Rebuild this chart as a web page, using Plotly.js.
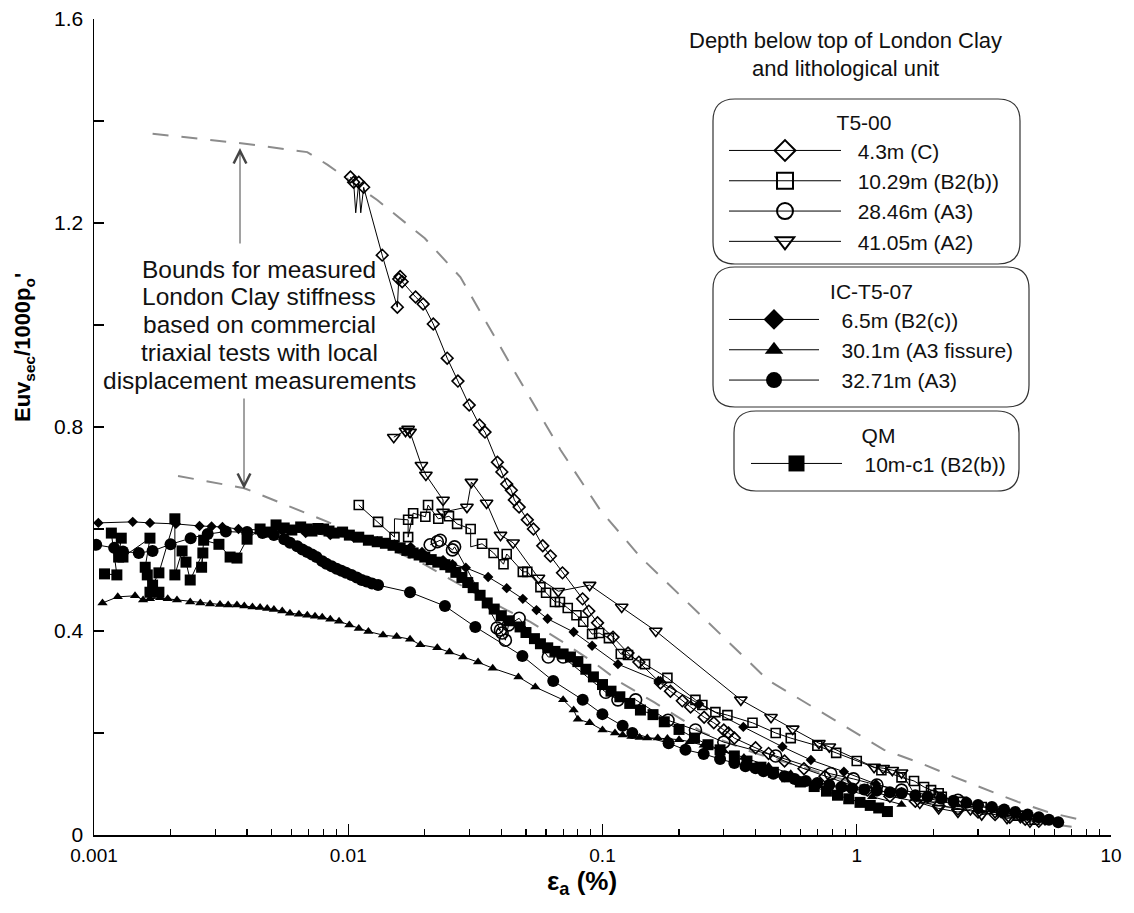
<!DOCTYPE html>
<html><head><meta charset="utf-8">
<script src="https://cdn.plot.ly/plotly-3.0.1.min.js"></script>
<style>html,body{margin:0;padding:0;background:#fff}#chart{width:1134px;height:913px}</style>
</head><body><div id="chart"></div>
<script>
// ---------- data (axial strain %, Euv_sec/1000p'o) ----------
const boundUpperX = [0.0017,0.004,0.0069,0.0083,0.013,0.02,0.0276,0.0447,0.0684,0.098,0.141,0.447,1.28,1.78,2.41,3.27,4.3,5.64,7.7];
const boundUpperY = [1.375,1.355,1.339,1.314,1.245,1.17,1.094,0.912,0.755,0.637,0.545,0.304,0.167,0.141,0.114,0.088,0.065,0.045,0.029];
const boundLowerX = [0.00214,0.0039,0.0083,0.012,0.02,0.03,0.042,0.052,0.07,0.092,0.117,0.16,0.25,0.4,0.64,1.14,2.0,4.0,7.0];
const boundLowerY = [0.704,0.68,0.614,0.58,0.53,0.48,0.441,0.418,0.378,0.339,0.3,0.26,0.2,0.16,0.13,0.092,0.06,0.033,0.016];

// T5-00 4.3m (C)
const t500_43_x = [0.0102,0.0105,0.0107,0.011,0.0112,0.0115,0.0136,0.0156,0.0158,0.016,0.0163,0.0184,0.0197,0.0216,0.0245,0.027,0.0299,0.0328,0.0345,0.0386,0.0402,0.042,0.0438,0.045,0.047,0.0506,0.0535,0.0582,0.0624,0.0696,0.0835,0.0883,0.0956,0.11,0.126,0.139,0.169,0.185,0.206,0.222,0.251,0.274,0.3,0.313,0.33,0.4,0.45,0.52,0.62,0.75,0.9,1.1,1.35,1.7,2.1,2.5,3.0,3.5,4.0,4.6,5.2];
const t500_43_y = [1.29,1.28,1.22,1.28,1.22,1.27,1.137,1.035,1.09,1.095,1.085,1.055,1.041,1.002,0.935,0.89,0.843,0.804,0.79,0.731,0.712,0.688,0.676,0.657,0.643,0.618,0.6,0.567,0.547,0.514,0.463,0.439,0.416,0.388,0.357,0.339,0.298,0.282,0.263,0.251,0.231,0.22,0.206,0.2,0.19,0.171,0.16,0.145,0.13,0.115,0.102,0.088,0.076,0.066,0.058,0.051,0.045,0.04,0.035,0.031,0.027];
const t500_43_hidden = [2, 4]; // line vertices drawn without a symbol
// T5-00 10.29m (B2(b))
const t500_1029_x = [0.011,0.0131,0.0152,0.0152,0.0172,0.0172,0.018,0.0201,0.0206,0.0226,0.0249,0.0268,0.0303,0.0303,0.0336,0.0373,0.0408,0.042,0.0486,0.0506,0.057,0.06,0.065,0.068,0.073,0.079,0.084,0.091,0.097,0.106,0.118,0.126,0.147,0.18,0.232,0.247,0.278,0.31,0.389,0.48,0.55,0.7,0.83,1.0,1.25,1.5,1.68,1.84,1.96,2.1,2.16,2.6,3.1,3.7,4.3,5.0];
const t500_1029_y = [0.647,0.614,0.584,0.62,0.618,0.584,0.631,0.624,0.647,0.62,0.625,0.61,0.6,0.565,0.571,0.553,0.531,0.551,0.516,0.516,0.486,0.475,0.457,0.457,0.445,0.431,0.418,0.394,0.396,0.386,0.355,0.353,0.335,0.308,0.265,0.255,0.241,0.235,0.22,0.2,0.19,0.175,0.161,0.145,0.127,0.113,0.106,0.094,0.088,0.082,0.075,0.065,0.055,0.046,0.038,0.03];
const t500_1029_hidden = [3, 13];
// T5-00 28.46m (A3)
const t500_2846_x = [0.021,0.0224,0.023,0.0257,0.0262,0.0397,0.0385,0.0403,0.0415,0.0427,0.047,0.0612,0.07,0.103,0.115,0.135,0.181,0.232,0.3,0.48,0.79,0.97,1.2,1.5,2.0,2.5];
const t500_2846_y = [0.569,0.575,0.578,0.559,0.565,0.402,0.406,0.396,0.382,0.412,0.425,0.349,0.349,0.28,0.265,0.265,0.225,0.206,0.182,0.155,0.12,0.11,0.098,0.088,0.076,0.068];
// T5-00 41.05m (A2)
const t500_4105_x = [0.0151,0.0168,0.0172,0.0175,0.0194,0.0202,0.0236,0.0236,0.0293,0.0305,0.035,0.0397,0.0445,0.056,0.067,0.089,0.119,0.162,0.35,0.46,0.56,0.71,0.78,1.17,1.27,1.38,1.5,1.77,2.1,2.5,2.8,3.1,3.5,3.9,4.4,4.8];
const t500_4105_y = [0.78,0.792,0.796,0.79,0.725,0.706,0.657,0.633,0.643,0.692,0.651,0.588,0.573,0.504,0.478,0.49,0.447,0.4,0.265,0.231,0.208,0.18,0.173,0.133,0.131,0.127,0.122,0.063,0.052,0.045,0.05,0.04,0.044,0.033,0.035,0.026];
// IC-T5-07 6.5m (B2(c))
const ic_65_x = [0.00104,0.00142,0.00166,0.0021,0.0026,0.0029,0.0032,0.0037,0.0045,0.0055,0.0068,0.0085,0.0105,0.013,0.0152,0.0176,0.0195,0.0236,0.0257,0.029,0.0355,0.042,0.0486,0.055,0.0608,0.077,0.091,0.115,0.166,0.24,0.358,0.51,0.66,0.89,1.19,1.5,1.9,2.4,3.0,3.7,4.5,5.5];
const ic_65_y = [0.612,0.614,0.612,0.61,0.606,0.605,0.604,0.6,0.598,0.596,0.592,0.588,0.583,0.576,0.57,0.565,0.555,0.539,0.531,0.524,0.506,0.484,0.463,0.441,0.424,0.398,0.371,0.335,0.302,0.257,0.212,0.173,0.147,0.124,0.1,0.084,0.072,0.06,0.05,0.042,0.035,0.028];
// IC-T5-07 30.1m (A3 fissure)
const ic_301_x = [0.00108,0.00124,0.00145,0.00156,0.00166,0.00182,0.00195,0.00212,0.00239,0.00262,0.00286,0.00313,0.00337,0.00365,0.0039,0.0042,0.0045,0.0048,0.0051,0.0055,0.0059,0.0064,0.0069,0.0074,0.0079,0.0085,0.0092,0.0101,0.011,0.012,0.0137,0.0155,0.0175,0.0192,0.0224,0.025,0.0283,0.0324,0.037,0.0467,0.0544,0.07,0.077,0.08,0.089,0.1,0.112,0.12,0.13,0.14,0.15,0.165,0.18,0.2,0.22,0.25,0.3,0.36,0.45,0.55,0.7,0.9,1.15,1.5];
const ic_301_y = [0.455,0.467,0.469,0.461,0.463,0.465,0.463,0.461,0.457,0.455,0.453,0.452,0.451,0.451,0.449,0.447,0.446,0.444,0.442,0.439,0.435,0.433,0.431,0.429,0.427,0.423,0.419,0.412,0.405,0.399,0.392,0.389,0.384,0.373,0.367,0.359,0.349,0.339,0.327,0.31,0.29,0.265,0.245,0.227,0.22,0.206,0.2,0.196,0.193,0.191,0.19,0.19,0.189,0.187,0.183,0.176,0.165,0.152,0.135,0.12,0.104,0.09,0.075,0.06];
// IC-T5-07 32.71m (A3)
const ic_3271_x = [0.00102,0.0012,0.0013,0.0015,0.0017,0.002,0.0024,0.0028,0.0033,0.004,0.0046,0.0051,0.0056,0.0059,0.0063,0.0066,0.0069,0.0072,0.0075,0.0079,0.0082,0.0086,0.009,0.0094,0.0098,0.0103,0.0108,0.0113,0.0118,0.0124,0.0131,0.0175,0.024,0.0316,0.0484,0.064,0.0836,0.0999,0.12,0.131,0.182,0.212,0.25,0.29,0.33,0.365,0.4,0.43,0.47,0.52,0.57,0.63,0.7,0.78,0.87,0.96,1.07,1.2,1.35,1.5,1.7,1.9,2.15,2.4,2.7,3.0,3.4,3.8,4.2,4.7,5.2,5.7,6.2];
const ic_3271_y = [0.569,0.563,0.556,0.553,0.557,0.57,0.582,0.59,0.595,0.594,0.592,0.588,0.58,0.573,0.566,0.56,0.555,0.55,0.545,0.537,0.532,0.527,0.522,0.518,0.514,0.51,0.505,0.5,0.497,0.493,0.49,0.476,0.449,0.408,0.351,0.302,0.265,0.237,0.214,0.2,0.18,0.167,0.159,0.149,0.141,0.135,0.131,0.125,0.12,0.115,0.11,0.106,0.102,0.098,0.094,0.091,0.089,0.087,0.084,0.082,0.078,0.075,0.071,0.067,0.063,0.059,0.055,0.05,0.045,0.04,0.035,0.03,0.025];
// QM 10m-c1 (B2(b))
const qm_10_x = [0.0011,0.00123,0.00117,0.00128,0.00125,0.0013,0.00166,0.00159,0.00162,0.00166,0.0018,0.0017,0.0018,0.00208,0.00208,0.00222,0.0023,0.00239,0.00268,0.00265,0.0027,0.0031,0.00343,0.00365,0.004,0.0045,0.0049,0.0052,0.0056,0.006,0.0065,0.0069,0.0072,0.0076,0.008,0.0084,0.0088,0.0095,0.0101,0.011,0.012,0.013,0.014,0.015,0.016,0.017,0.018,0.019,0.02,0.0212,0.0225,0.024,0.0253,0.0265,0.028,0.0295,0.031,0.033,0.0352,0.0375,0.04,0.043,0.0474,0.05,0.054,0.057,0.0609,0.065,0.07,0.0748,0.08,0.086,0.0921,0.1,0.108,0.117,0.128,0.141,0.158,0.175,0.2,0.23,0.26,0.29,0.33,0.37,0.42,0.47,0.53,0.6,0.68,0.76,0.84,0.93,1.03,1.13,1.22,1.32];
const qm_10_y = [0.512,0.51,0.592,0.582,0.545,0.545,0.582,0.525,0.51,0.476,0.476,0.49,0.514,0.62,0.51,0.557,0.535,0.5,0.553,0.525,0.578,0.57,0.545,0.543,0.58,0.6,0.594,0.608,0.602,0.598,0.604,0.6,0.596,0.601,0.6,0.596,0.592,0.594,0.588,0.584,0.578,0.575,0.572,0.568,0.563,0.558,0.553,0.549,0.545,0.54,0.535,0.53,0.525,0.515,0.505,0.495,0.485,0.47,0.455,0.443,0.43,0.42,0.408,0.397,0.385,0.375,0.367,0.36,0.355,0.349,0.34,0.325,0.31,0.295,0.282,0.271,0.258,0.245,0.236,0.222,0.207,0.19,0.177,0.167,0.155,0.145,0.133,0.123,0.114,0.104,0.095,0.086,0.078,0.071,0.064,0.058,0.053,0.046];

// ---------- labels ----------
const xTickVals = [0.001,0.01,0.1,1,10];
const xTickText = ['0.001','0.01','0.1','1','10'];
const yTickVals = [0,0.4,0.8,1.2,1.6];
const yTickText = ['0','0.4','0.8','1.2','1.6'];
const series = [
  {name:'4.3m (C)', x:t500_43_x, y:t500_43_y, hidden:t500_43_hidden, sym:'diamond-open', size:9, legend:'legend'},
  {name:'10.29m (B2(b))', x:t500_1029_x, y:t500_1029_y, hidden:t500_1029_hidden, sym:'square-open', size:9, legend:'legend'},
  {name:'28.46m (A3)', x:t500_2846_x, y:t500_2846_y, hidden:[], sym:'circle-open', size:12, legend:'legend'},
  {name:'41.05m (A2)', x:t500_4105_x, y:t500_4105_y, hidden:[], sym:'triangle-down-open', size:11, legend:'legend'},
  {name:'6.5m (B2(c))', x:ic_65_x, y:ic_65_y, hidden:[], sym:'diamond', size:8, legend:'legend2'},
  {name:'30.1m (A3 fissure)', x:ic_301_x, y:ic_301_y, hidden:[], sym:'triangle-up', size:9, legend:'legend2'},
  {name:'32.71m (A3)', x:ic_3271_x, y:ic_3271_y, hidden:[], sym:'circle', size:12, legend:'legend2'},
  {name:'10m-c1 (B2(b))', x:qm_10_x, y:qm_10_y, hidden:[], sym:'square', size:11, legend:'legend3'}
];
const legendTitles = {legend:'T5-00', legend2:'IC-T5-07', legend3:'QM'};
const headerText = ['Depth below top of London Clay','and lithological unit'];
const boundsText = ['Bounds for measured','London Clay stiffness','based on commercial','triaxial tests with local','displacement measurements'];
const yTitle = 'Euv<sub>sec</sub>/1000p<sub>o</sub>\'';
const xTitle = '\u03b5<sub>a</sub> (%)';

// ---------- figure ----------
const FONT = 'Liberation Sans, Arial, Helvetica, sans-serif';
const W = 1134, H = 913, ML = 94, MR = 23, MT = 19, MB = 78;
const PW = W - ML - MR, PH = H - MT - MB;
const px2paperX = p => (p - ML) / PW;
const px2paperY = p => (H - MB - p) / PH;

const traces = [];
traces.push({x:boundUpperX, y:boundUpperY, mode:'lines', line:{color:'#8c8c8c', width:2, dash:'16px,13px'}, showlegend:false, hoverinfo:'skip'});
traces.push({x:boundLowerX, y:boundLowerY, mode:'lines', line:{color:'#8c8c8c', width:2, dash:'16px,13px'}, showlegend:false, hoverinfo:'skip'});
series.forEach(s => {
  const open = s.sym.indexOf('open') >= 0;
  const sizes = s.x.map((_, i) => s.hidden.indexOf(i) >= 0 ? 0 : s.size);
  traces.push({x:s.x, y:s.y, mode:'lines+markers', name:s.name, showlegend:false,
    line:{color:'#000', width:1},
    marker:{symbol:s.sym, size:sizes, opacity:1, color:'#000', line:{color:'#000', width: open ? 1.6 : 0}}});
});
// legend-only entries (carry no data)
const legendGap = {legend:'\u00a0\u00a0', legend2:'\u00a0\u00a0\u00a0', legend3:'\u00a0\u00a0\u00a0'};
series.forEach(s => {
  const open = s.sym.indexOf('open') >= 0;
  traces.push({x:[null], y:[null], mode:'lines+markers', name:legendGap[s.legend] + s.name, legend:s.legend, showlegend:true,
    line:{color:'#000', width:1},
    marker:{symbol:s.sym, size:16, opacity:1, color:'#000', line:{color:'#000', width: open ? 2 : 0}}});
});

function roundedBox(x0, y0, x1, y1, r) {
  const X = px2paperX, Y = px2paperY;
  return 'M' + X(x0 + r) + ',' + Y(y0) + ' L' + X(x1 - r) + ',' + Y(y0) +
    ' Q' + X(x1) + ',' + Y(y0) + ' ' + X(x1) + ',' + Y(y0 + r) +
    ' L' + X(x1) + ',' + Y(y1 - r) +
    ' Q' + X(x1) + ',' + Y(y1) + ' ' + X(x1 - r) + ',' + Y(y1) +
    ' L' + X(x0 + r) + ',' + Y(y1) +
    ' Q' + X(x0) + ',' + Y(y1) + ' ' + X(x0) + ',' + Y(y1 - r) +
    ' L' + X(x0) + ',' + Y(y0 + r) +
    ' Q' + X(x0) + ',' + Y(y0) + ' ' + X(x0 + r) + ',' + Y(y0) + ' Z';
}
const shapes = [
  [713, 99, 1020, 264], [713, 267, 1029, 407], [734, 411, 1019, 491]
].map(b => ({type:'path', xref:'paper', yref:'paper', path:roundedBox(b[0], b[1], b[2], b[3], 22),
  line:{color:'#333', width:1.2}, fillcolor:'rgba(0,0,0,0)', layer:'above'}));

const annotations = [];
headerText.forEach((t, i) => annotations.push({xref:'paper', yref:'paper', x:px2paperX(845), y:px2paperY(40 + i * 28),
  text:t, showarrow:false, xanchor:'center', yanchor:'middle', font:{family:FONT, size:22, color:'#111'}}));
boundsText.forEach((t, i) => annotations.push({xref:'paper', yref:'paper', x:px2paperX(259), y:px2paperY(269 + i * 27.8),
  text:t, showarrow:false, xanchor:'center', yanchor:'middle', font:{family:FONT, size:24.5, color:'#111'}}));
annotations.push({xref:'paper', yref:'paper', x:px2paperX(24), y:px2paperY(348), text:yTitle, textangle:-90,
  showarrow:false, xanchor:'center', yanchor:'middle', font:{family:FONT, size:22, weight:'bold', color:'#000'}});
annotations.push({xref:'paper', yref:'paper', x:px2paperX(582), y:px2paperY(882), text:xTitle,
  showarrow:false, xanchor:'center', yanchor:'middle', font:{family:FONT, size:26, weight:'bold', color:'#000'}});
// arrows
annotations.push({xref:'paper', yref:'paper', x:px2paperX(240), y:px2paperY(148), ax:0, ay:97, axref:'pixel', ayref:'pixel',
  text:'', showarrow:true, arrowhead:5, arrowsize:2.5, arrowwidth:1, arrowcolor:'#444'});
annotations.push({xref:'paper', yref:'paper', x:px2paperX(244), y:px2paperY(489), ax:0, ay:-92, axref:'pixel', ayref:'pixel',
  text:'', showarrow:true, arrowhead:5, arrowsize:2.5, arrowwidth:1, arrowcolor:'#444'});

function legendCfg(key, xpx, ypx, iw) {
  return {x:px2paperX(xpx), y:px2paperY(ypx), xanchor:'left', yanchor:'top', bgcolor:'rgba(0,0,0,0)', borderwidth:0,
    font:{family:FONT, size:21, color:'#111'}, itemwidth:iw, tracegroupgap:0, traceorder:'normal',
    title:{text:legendTitles[key], side:'top center', font:{family:FONT, size:21, color:'#111'}}};
}

const layout = {
  width:W, height:H, margin:{l:ML, r:MR, t:MT, b:MB, pad:0},
  paper_bgcolor:'#fff', plot_bgcolor:'#fff',
  font:{family:FONT, color:'#000'},
  xaxis:{type:'log', range:[-3, 1], showgrid:false, zeroline:false, showline:true, linecolor:'#000', linewidth:1.5,
    ticks:'inside', ticklen:11, tickwidth:1.2, tickcolor:'#000', tickmode:'array', tickvals:xTickVals, ticktext:xTickText,
    tickfont:{family:FONT, size:19, color:'#000'}, ticklabelstandoff:3,
    minor:{ticks:'inside', ticklen:6, tickwidth:1.2, tickcolor:'#000', tickmode:'array',
      tickvals:[0.001,0.01,0.1,1].flatMap(d => [2,3,4,5,6,7,8,9].map(k => d * k)), showgrid:false}},
  yaxis:{range:[0, 1.6], showgrid:false, zeroline:false, showline:true, linecolor:'#000', linewidth:1.5,
    ticks:'inside', ticklen:10, tickwidth:1.2, tickcolor:'#000', tickmode:'array', tickvals:yTickVals, ticktext:yTickText,
    tickfont:{family:FONT, size:21, color:'#000'}, ticklabelstandoff:5,
    minor:{ticks:'inside', ticklen:10, tickwidth:1.2, tickcolor:'#000', dtick:0.2, showgrid:false}},
  showlegend:true,
  legend:legendCfg('legend', 724, 103, 112),
  legend2:legendCfg('legend2', 724, 272, 90),
  legend3:legendCfg('legend3', 746, 416, 91),
  shapes:shapes,
  annotations:annotations
};

Plotly.newPlot('chart', traces, layout, {displayModeBar:false, staticPlot:true});
</script></body></html>
